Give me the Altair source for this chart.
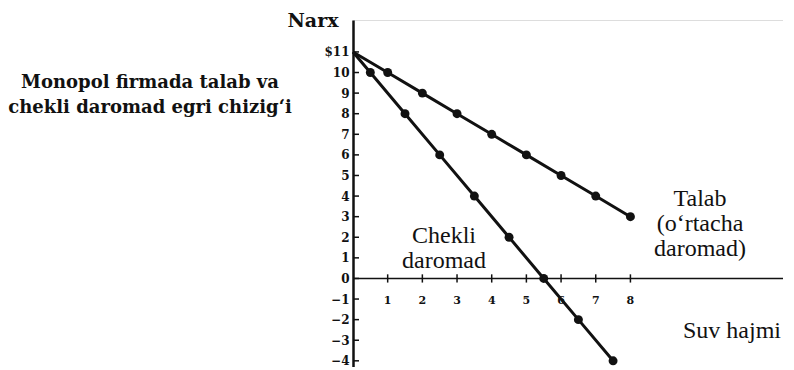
import altair as alt
import pandas as pd

# Demand (Talab / average revenue)
q_demand = [0, 1, 2, 3, 4, 5, 6, 7, 8]
p_demand = [11, 10, 9, 8, 7, 6, 5, 4, 3]
dot_demand = [False, True, True, True, True, True, True, True, True]

# Marginal revenue (Chekli daromad)
q_mr = [0, 0.5, 1.5, 2.5, 3.5, 4.5, 5.5, 6.5, 7.5]
p_mr = [11, 10, 8, 6, 4, 2, 0, -2, -4]
dot_mr = [False, True, True, True, True, True, True, True, True]

y_ticks = [-4, -3, -2, -1, 0, 1, 2, 3, 4, 5, 6, 7, 8, 9, 10, 11]
x_ticks = [1, 2, 3, 4, 5, 6, 7, 8]

X_MAX = 12.4
Y_MIN, Y_MAX = -4.3, 12.55

df = pd.DataFrame({
    "q": q_demand + q_mr,
    "p": p_demand + p_mr,
    "dot": dot_demand + dot_mr,
    "series": ["Talab"] * len(q_demand) + ["Chekli daromad"] * len(q_mr),
})

xs = alt.Scale(domain=[0, X_MAX], nice=False, zero=False)
ys = alt.Scale(domain=[Y_MIN, Y_MAX], nice=False, zero=False)

X = alt.X("q:Q", scale=xs, axis=None)
Y = alt.Y("p:Q", scale=ys, axis=alt.Axis(
    values=y_ticks, title=None, ticks=False, grid=False,
    domainColor="#111", domainWidth=2.5,
    labelFont="DejaVu Serif", labelFontWeight="bold", labelFontSize=12,
    labelColor="#111", labelPadding=4,
    labelExpr="datum.value == 11 ? '$11' : datum.label"))

lines = alt.Chart(df).mark_line(color="#111", strokeWidth=3).encode(
    x=X, y=Y, detail="series:N")
points = alt.Chart(df).transform_filter("datum.dot").mark_circle(
    color="#111", opacity=1, size=80).encode(x=X, y=Y)

# x axis line at zero
xline = alt.Chart(pd.DataFrame({"q": [0], "q2": [X_MAX], "p": [0]})).mark_rule(
    color="#111", strokeWidth=1.5).encode(x=X, x2="q2:Q", y=Y)

xt = pd.DataFrame({"q": x_ticks, "p": [-0.2] * len(x_ticks), "p2": [0.2] * len(x_ticks)})
xticks = alt.Chart(xt).mark_rule(color="#111", strokeWidth=1.5).encode(
    x=X, y=Y, y2="p2:Q")
xl = pd.DataFrame({"q": x_ticks, "p": [0] * len(x_ticks),
                   "lab": [str(v) for v in x_ticks]})
xlabels = alt.Chart(xl).mark_text(
    font="DejaVu Serif", fontWeight="bold", fontSize=11, color="#111", dy=23
).encode(x=X, y=Y, text="lab:N")

yt = pd.DataFrame({"p": y_ticks})
yticks = alt.Chart(yt).mark_rule(color="#111", strokeWidth=1.5).encode(
    x=alt.value(0), x2=alt.value(6), y=Y)

serif = "Liberation Serif"

def label(lines_, x, y, size=24, weight="normal", font=serif, lh=25, align="center"):
    return alt.Chart(pd.DataFrame({"t": [lines_]})).mark_text(
        font=font, fontSize=size, fontWeight=weight, color="#111",
        lineHeight=lh, align=align, baseline="middle"
    ).encode(x=alt.value(x), y=alt.value(y), text="t")

t_chekli = label(["Chekli", "daromad"], 91, 216)
t_talab = label(["Talab", "(o\u2018rtacha", "daromad)"], 347, 179)
t_suv = label("Suv hajmi", 379, 311)
t_narx = label("Narx", -40, 1, size=19, weight="bold", font="DejaVu Serif")
t_title = label(["Monopol firmada talab va", "chekli daromad egri chizig\u2018i"],
                -203, 63, size=18, weight="bold", font="DejaVu Serif", lh=25)

chart = alt.layer(
    xline, xticks, yticks, lines, points, xlabels,
    t_chekli, t_talab, t_suv, t_narx, t_title
).properties(
    width=430, height=347, autosize="none",
    padding={"left": 345, "top": 12, "right": 0, "bottom": 0}
).configure_view(stroke=None).configure(background="white")

chart.save("out.html", embed_options={"renderer": "svg", "actions": False})
